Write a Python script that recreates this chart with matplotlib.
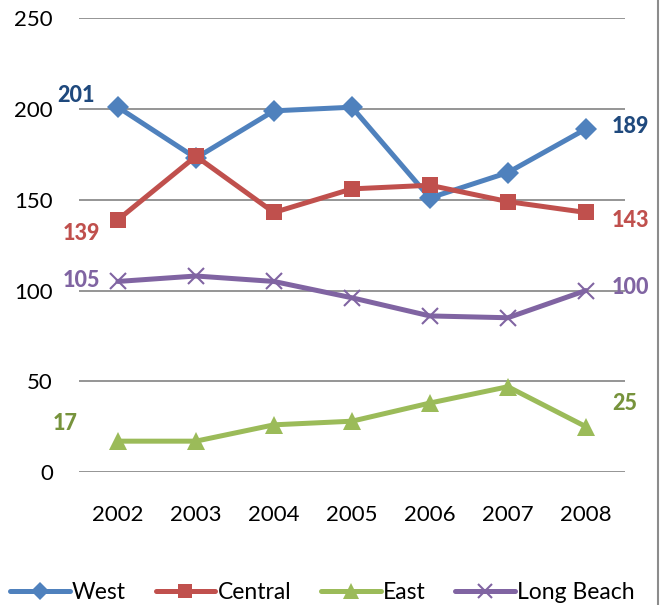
import matplotlib
matplotlib.use("Agg")
import matplotlib.pyplot as plt
from matplotlib.lines import Line2D

plt.rcParams['font.family'] = ['Lato', 'DejaVu Sans']

years = ["2002", "2003", "2004", "2005", "2006", "2007", "2008"]
west = [201, 173, 199, 201, 151, 165, 189]
central = [139, 174, 143, 156, 158, 149, 143]
east = [17, 17, 26, 28, 38, 47, 25]
long_beach = [105, 108, 105, 96, 86, 85, 100]
y_ticks = [0, 50, 100, 150, 200, 250]

series = [
    ("West", west, "#4F81BD", "D", 11, "#1F497D"),
    ("Central", central, "#C0504D", "s", 12, "#C0504D"),
    ("East", east, "#9BBB59", "^", 13, "#77933C"),
    ("Long Beach", long_beach, "#8064A2", "x", 12, "#8064A2"),
]

DPI = 100
fig = plt.figure(figsize=(6.69, 6.05), dpi=DPI)
ax = fig.add_axes([0.118, 0.2198, 0.816, 0.750])

x = list(range(len(years)))
handles = []
for name, vals, color, marker, ms, lab_color in series:
    mew = 1.5 if marker == "x" else 0
    ln, = ax.plot(x, vals, color=color, lw=3.6, marker=marker, ms=ms,
                  markerfacecolor=color, markeredgecolor=color,
                  markeredgewidth=mew, solid_capstyle="round", zorder=3)
    handles.append(ln)


def px(v):
    return v * 72.0 / DPI


def end_label(xi, val, dx, dy, color, ha):
    ax.annotate(str(val), (xi, val), xytext=(px(dx), px(dy)),
                textcoords="offset points", color=color, ha=ha, va="center",
                fontsize=15.5, fontweight="black")


# value labels at the first and last year
end_label(0, west[0], -23, 12, "#1F497D", "right")
end_label(0, central[0], -18, -14, "#C0504D", "right")
end_label(0, long_beach[0], -18, 1, "#8064A2", "right")
end_label(0, east[0], -40, 18, "#77933C", "right")
end_label(6, west[-1], 26, 2, "#1F497D", "left")
end_label(6, central[-1], 26, -8, "#C0504D", "left")
end_label(6, long_beach[-1], 26, 3, "#8064A2", "left")
end_label(6, east[-1], 26, 23, "#77933C", "left")

ax.set_xlim(-0.5, 6.5)
ax.set_ylim(0, 250)
ax.set_xticks(x)
ax.set_xticklabels(years)
ax.set_yticks(y_ticks)
ax.tick_params(axis="both", length=0, labelsize=16, colors="black")
ax.tick_params(axis="y", pad=px(26))
ax.tick_params(axis="x", pad=24)
ax.grid(axis="y", color="#8C8C8C", lw=1.3)
ax.set_axisbelow(True)
for s in ax.spines.values():
    s.set_visible(False)

# right border of the chart area
fig.add_artist(Line2D([0.984, 0.984], [0.0, 1.0], color="#8C8C8C", lw=1.5))

fig.legend(handles, [s[0] for s in series], loc="center",
           bbox_to_anchor=(0.482, 0.021), ncol=4, frameon=False, fontsize=16.5,
           handlelength=2.6, handletextpad=0.1, columnspacing=1.3,
           markerscale=0.85)

fig.savefig("out.png", dpi=DPI)
